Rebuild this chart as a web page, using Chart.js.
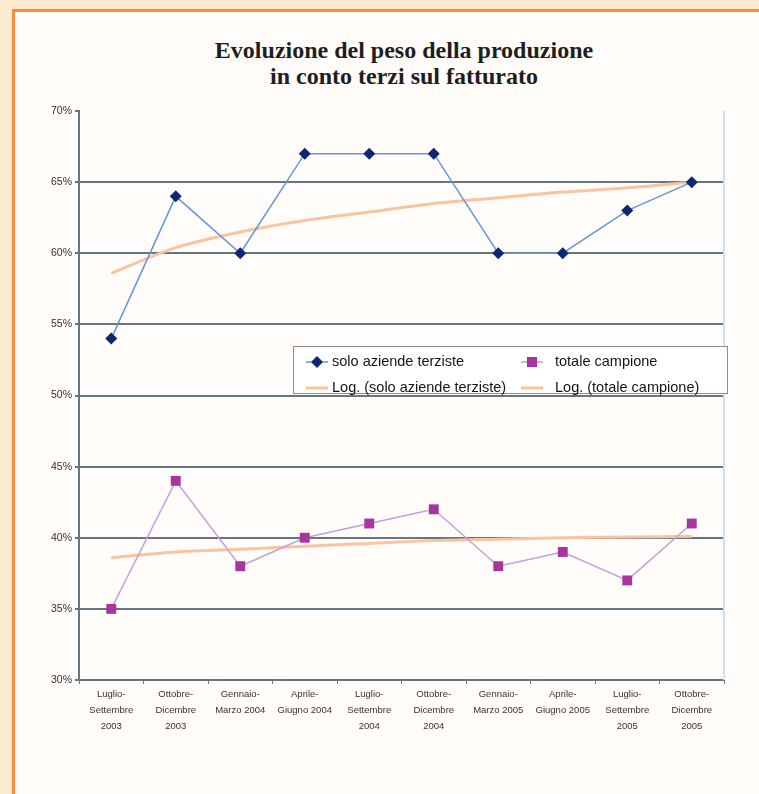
<!DOCTYPE html>
<html>
<head>
<meta charset="utf-8">
<script src="https://cdn.jsdelivr.net/npm/chart.js@4.4.1/dist/chart.umd.min.js"></script>
<style>
  html, body { margin: 0; padding: 0; }
  body { width: 759px; height: 794px; background: #fdebcf; position: relative; overflow: hidden; }
  #panel { position: absolute; left: 12px; top: 9px; right: 0; bottom: 0;
           border-top: 3px solid #f68b3c; border-left: 3px solid #f68b3c; background: #fffcf9; }
  #title { position: absolute; left: 0; top: 37px; width: 808px; text-align: center;
           font: bold 24px "Liberation Serif", "Times New Roman", serif; line-height: 26px; color: #1e1e1e; }
  #chart { position: absolute; left: 0; top: 0; }
</style>
</head>
<body>
<div id="panel"></div>
<div id="title">Evoluzione del peso della produzione<br>in conto terzi sul fatturato</div>
<canvas id="chart" width="759" height="794"></canvas>
<script>
// Trimestri
const periodLabels = [
  ['Luglio-', 'Settembre', '2003'],
  ['Ottobre-', 'Dicembre', '2003'],
  ['Gennaio-', 'Marzo 2004'],
  ['Aprile-', 'Giugno 2004'],
  ['Luglio-', 'Settembre', '2004'],
  ['Ottobre-', 'Dicembre', '2004'],
  ['Gennaio-', 'Marzo 2005'],
  ['Aprile-', 'Giugno 2005'],
  ['Luglio-', 'Settembre', '2005'],
  ['Ottobre-', 'Dicembre', '2005']
];

// Peso della produzione in conto terzi (% sul fatturato)
const soloAziendeTerziste = [54, 64, 60, 67, 67, 67, 60, 60, 63, 65];
const totaleCampione      = [35, 44, 38, 40, 41, 42, 38, 39, 37, 41];

// Linee di tendenza logaritmiche
const logSoloAziende    = [58.6, 60.4, 61.5, 62.3, 62.9, 63.5, 63.9, 64.3, 64.6, 65.0];
const logTotaleCampione = [38.6, 39.0, 39.2, 39.4, 39.6, 39.8, 39.9, 40.0, 40.05, 40.1];

// Asse delle percentuali
const yMin = 30, yMax = 70, yStep = 5;

const GRID = '#66767f';
const TEXT = '#333333';

// Bordo destro dell'area del grafico
const rightEdge = {
  id: 'rightEdge',
  beforeDatasetsDraw(chart) {
    const { ctx, chartArea: a } = chart;
    ctx.save();
    ctx.strokeStyle = '#cfe2f1';
    ctx.lineWidth = 2;
    ctx.beginPath();
    ctx.moveTo(a.right, a.top);
    ctx.lineTo(a.right, a.bottom);
    ctx.stroke();
    ctx.restore();
  }
};

// Legenda a riquadro dentro l'area del grafico
const boxLegend = {
  id: 'boxLegend',
  afterDraw(chart) {
    const ctx = chart.ctx;
    const box = { x: 293, y: 346, w: 434, h: 47 };
    ctx.save();
    ctx.fillStyle = '#ffffff';
    ctx.fillRect(box.x, box.y, box.w, box.h);
    ctx.strokeStyle = '#8c8c8c';
    ctx.lineWidth = 1;
    ctx.strokeRect(box.x + 0.5, box.y + 0.5, box.w, box.h);

    const cols = [{ sym: 317, text: 332 }, { sym: 532, text: 555 }];
    const rows = [362, 388];
    ctx.font = '14.5px "Liberation Sans", Arial, sans-serif';
    ctx.textBaseline = 'middle';
    chart.data.datasets.forEach((ds, i) => {
      const c = cols[i % 2];
      const y = rows[Math.floor(i / 2)];
      ctx.strokeStyle = ds.borderColor;
      ctx.lineWidth = ds.borderWidth;
      ctx.beginPath();
      ctx.moveTo(c.sym - 11, y);
      ctx.lineTo(c.sym + 11, y);
      ctx.stroke();
      if (ds.pointRadius > 0) {
        Chart.helpers.drawPoint(ctx, {
          pointStyle: ds.pointStyle,
          radius: ds.pointRadius,
          rotation: 0,
          borderWidth: 0
        }, c.sym, y);
        ctx.fillStyle = ds.pointBackgroundColor;
        ctx.fill();
      }
      ctx.fillStyle = '#141414';
      ctx.fillText(ds.label, c.text, y);
    });
    ctx.restore();
  }
};

new Chart(document.getElementById('chart'), {
  type: 'line',
  data: {
    labels: periodLabels,
    datasets: [
      {
        label: 'solo aziende terziste',
        data: soloAziendeTerziste,
        borderColor: '#6796d8',
        borderWidth: 1.5,
        pointStyle: 'rectRot',
        pointRadius: 6,
        pointBackgroundColor: '#0d2775',
        pointBorderColor: '#0d2775',
        pointBorderWidth: 0,
        tension: 0
      },
      {
        label: 'totale campione',
        data: totaleCampione,
        borderColor: '#bba3dc',
        borderWidth: 1.5,
        pointStyle: 'rect',
        pointRadius: 7,
        pointBackgroundColor: '#a8359f',
        pointBorderColor: '#a8359f',
        pointBorderWidth: 0,
        tension: 0
      },
      {
        label: 'Log. (solo aziende terziste)',
        data: logSoloAziende,
        borderColor: '#fbc4a1',
        borderWidth: 3,
        pointRadius: 0,
        tension: 0.3
      },
      {
        label: 'Log. (totale campione)',
        data: logTotaleCampione,
        borderColor: '#fbc4a1',
        borderWidth: 3,
        pointRadius: 0,
        tension: 0.3
      }
    ]
  },
  options: {
    responsive: false,
    animation: false,
    devicePixelRatio: 1,
    layout: { padding: { left: 0, top: 111, right: 35, bottom: 0 } },
    plugins: {
      legend: { display: false },
      title: { display: false },
      tooltip: { enabled: false }
    },
    scales: {
      x: {
        type: 'category',
        offset: true,
        afterFit(s) { s.height = 114; },
        border: { display: true, color: GRID, width: 2 },
        grid: { display: true, drawOnChartArea: false, drawTicks: true, tickLength: 4, color: GRID, offset: true },
        ticks: {
          color: TEXT,
          font: { family: '"Liberation Sans", Arial, sans-serif', size: 9.5, lineHeight: 1.65 },
          maxRotation: 0,
          autoSkip: false,
          padding: 3
        }
      },
      y: {
        min: yMin,
        max: yMax,
        afterFit(s) { s.width = 79; },
        border: { display: true, color: GRID, width: 2 },
        grid: {
          color: (c) => (c.tick && c.tick.value === yMax ? 'rgba(0,0,0,0)' : GRID),
          tickColor: GRID,
          lineWidth: 2,
          drawTicks: true,
          tickLength: 4
        },
        ticks: {
          stepSize: yStep,
          color: TEXT,
          padding: 3,
          font: { family: '"Liberation Sans", Arial, sans-serif', size: 10.5 },
          callback: (v) => v + '%'
        }
      }
    }
  },
  plugins: [rightEdge, boxLegend]
});
</script>
</body>
</html>
